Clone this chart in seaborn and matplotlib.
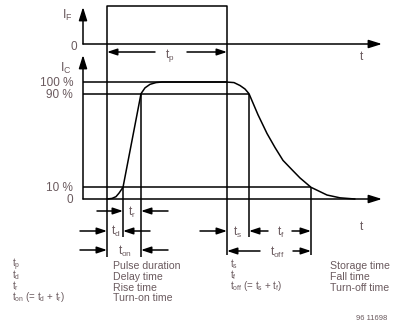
import matplotlib
matplotlib.use("Agg")
import pandas as pd
import matplotlib.pyplot as plt
import seaborn as sns

# Switching instants along the time axis
t_on, t_10r, t_90r = 107, 123, 141      # pulse start, 10 % rise, 90 % rise
t_off, t_90f, t_10f = 227, 249, 311     # pulse end, 90 % fall, 10 % fall
t_end = 382

# Collector current levels (% of I_C)
levels = [0, 10, 90, 100]
level_labels = ["0", "10 %", "90 %", "100 %"]

# Collector current waveform (time, % of I_C)
ic_t = [107, 112, 116, 119, 123, 132, 141, 145, 150, 156, 162,
        226, 234, 240, 245, 249, 252, 258, 267, 275, 283, 292, 300,
        311, 327, 340, 355]
ic_pct = [0, 0.5, 2, 5, 10, 50, 90, 95, 98, 99.5, 100,
          100, 99.5, 97, 94, 90, 84, 72, 56, 44, 33, 25, 18,
          10, 3.4, 1, 0]

# Legend texts
sym_left = [r"t$_\mathrm{p}$", r"t$_\mathrm{d}$", r"t$_\mathrm{r}$",
            r"t$_\mathrm{on}$ (= t$_\mathrm{d}$ + t$_\mathrm{r}$)"]
desc_left = ["Pulse duration", "Delay time", "Rise time", "Turn-on time"]
sym_right = [r"t$_\mathrm{s}$", r"t$_\mathrm{f}$",
             r"t$_\mathrm{off}$ (= t$_\mathrm{s}$ + t$_\mathrm{f}$)"]
desc_right = ["Storage time", "Fall time", "Turn-off time"]

sns.set_style("white")
plt.rcParams["font.family"] = ["Liberation Sans", "DejaVu Sans"]
plt.rcParams["mathtext.fontset"] = "custom"
plt.rcParams["mathtext.rm"] = "Liberation Sans"
plt.rcParams["mathtext.it"] = "Liberation Sans"

TXT = "#6a5a5e"
LW = 1.1
FS = 8.5
FS_LEG = 7.6
FS_SYM = 7.0

# IC axis mapping: 0 % -> y 199, 100 % -> y 82
y0_ic, y100_ic = 199, 82
def ic_y(p):
    return y0_ic - p * (y0_ic - y100_ic) / 100.0

y0_if, y1_if = 44, 6

fig = plt.figure(figsize=(3.99, 3.25), dpi=100)
ax = fig.add_axes([0, 0, 1, 1])
ax.set_xlim(0, 399)
ax.set_ylim(325, 0)
ax.axis("off")


def line(xs, ys):
    ax.plot(xs, ys, color="k", lw=LW, solid_capstyle="butt")


def arrow(x0, y0, x1, y1, hl=0.6, hw=0.2):
    ax.annotate("", xy=(x1, y1), xytext=(x0, y0),
                arrowprops=dict(arrowstyle=f"-|>,head_length={hl},head_width={hw}",
                                lw=LW, color="k", shrinkA=0, shrinkB=0))


def label(x, y, s, ha="center", fs=FS):
    # y is the visual centre of the capital letters; draw on baseline
    ax.text(x, y + fs * 0.45, s, ha=ha, va="baseline", fontsize=fs, color=TXT)


# ---- upper panel: I_F pulse
arrow(83, y0_if, 83, 7, hl=0.8, hw=0.25)
arrow(83, y0_if, t_end, y0_if, hl=0.8, hw=0.25)
line([t_on, t_on, t_off, t_off], [y0_if, y1_if, y1_if, y0_if])
label(67, 15, r"I$_\mathrm{F}$", fs=9)
label(77, 46, "0", ha="right")
label(361, 56, "t")
arrow(155, 52, t_on, 52)
arrow(187, 52, t_off, 52)
label(170, 54, r"t$_\mathrm{p}$")

# ---- lower panel: I_C response
arrow(83, y0_ic, 83, 55, hl=0.8, hw=0.25)
arrow(83, y0_ic, t_end, y0_ic, hl=0.8, hw=0.25)
label(66, 68, r"I$_\mathrm{C}$", fs=9)
for lv, lb in zip(levels, level_labels):
    label(73, ic_y(lv), lb, ha="right")
label(361, 226, "t")

df = pd.DataFrame({"t": ic_t, "y": [ic_y(p) for p in ic_pct]})
sns.lineplot(data=df, x="t", y="y", sort=False, color="k", lw=LW, ax=ax)

# reference level lines
line([83, t_off], [ic_y(100)] * 2)
line([83, t_90f], [ic_y(90)] * 2)
line([83, t_10f], [ic_y(10)] * 2)

# vertical markers
line([t_on, t_on], [y0_if, 257])
line([t_off, t_off], [y0_if, 255])
line([t_10r, t_10r], [ic_y(10), 237])
line([t_90r, t_90r], [ic_y(90), 257])
line([t_90f, t_90f], [ic_y(90), 237])
line([t_10f, t_10f], [ic_y(10), 255])

# ---- dimension arrows
# t_r
arrow(97, 211, t_10r, 211)
arrow(168, 211, t_90r, 211)
label(132, 212, r"t$_\mathrm{r}$")
# t_d
arrow(80, 231, t_on, 231)
arrow(150, 231, t_10r, 231)
label(116, 231, r"t$_\mathrm{d}$")
# t_on
arrow(80, 250, t_on, 250)
arrow(168, 250, t_90r, 250)
label(125, 251, r"t$_\mathrm{on}$")
# t_s
arrow(200, 231, t_off, 231)
label(238, 232, r"t$_\mathrm{s}$")
# t_f
arrow(268, 231, t_90f, 231)
arrow(292, 231, t_10f, 231)
label(281, 232, r"t$_\mathrm{f}$")
# t_off
arrow(260, 251, t_off, 251)
arrow(293, 251, t_10f, 251)
label(277, 252, r"t$_\mathrm{off}$")

# ---- legend
rows_left = [265.5, 276.3, 287.1, 297.9]
for y, s, d in zip(rows_left, sym_left, desc_left):
    label(12, y - 1, s, ha="left", fs=FS_SYM)
    label(113, y, d, ha="left", fs=FS_LEG)
rows_right = [265.5, 276.3, 287.1]
for y, s, d in zip(rows_right, sym_right, desc_right):
    label(230, y - 1, s, ha="left", fs=FS_SYM)
    label(330, y, d, ha="left", fs=FS_LEG)
label(356, 318, "96 11698", ha="left", fs=5.5)

fig.savefig("out.png", dpi=100)
